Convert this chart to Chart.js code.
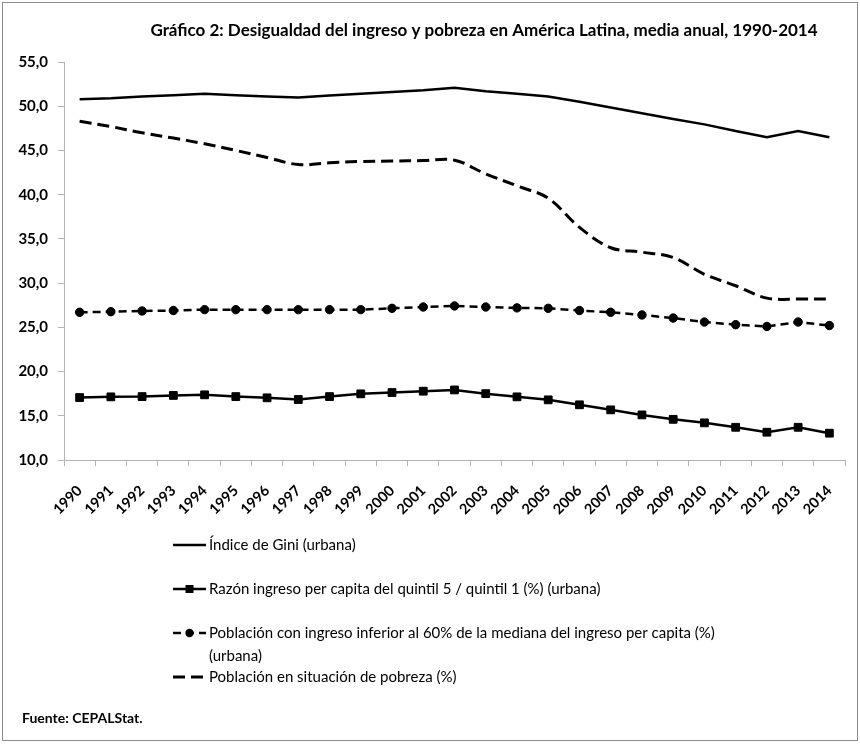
<!DOCTYPE html>
<html>
<head>
<meta charset="utf-8">
<script src="https://cdn.jsdelivr.net/npm/chart.js@4.4.1/dist/chart.umd.min.js"></script>
<style>
  html, body { margin: 0; padding: 0; background: #fff; }
  #wrap { position: relative; width: 860px; height: 744px; }
</style>
</head>
<body>
<div id="wrap"><canvas id="chart" width="860" height="744"></canvas></div>
<script>
const years = ['1990','1991','1992','1993','1994','1995','1996','1997','1998','1999','2000','2001','2002',
               '2003','2004','2005','2006','2007','2008','2009','2010','2011','2012','2013','2014'];

const gini    = [50.8, 50.9, 51.1, 51.25, 51.4, 51.25, 51.1, 51.0, 51.2, 51.4, 51.6, 51.8, 52.1,
                 51.7, 51.4, 51.1, 50.5, 49.85, 49.2, 48.55, 47.95, 47.2, 46.5, 47.2, 46.5];
const quintil = [17.06, 17.14, 17.17, 17.3, 17.37, 17.17, 17.03, 16.84, 17.17, 17.48, 17.63, 17.78, 17.92,
                 17.5, 17.14, 16.8, 16.24, 15.67, 15.1, 14.6, 14.2, 13.7, 13.14, 13.7, 13.03];
const bajo60  = [26.7, 26.77, 26.85, 26.9, 27.0, 27.0, 27.0, 27.0, 27.0, 27.0, 27.15, 27.3, 27.42,
                 27.3, 27.2, 27.15, 26.9, 26.7, 26.4, 26.05, 25.6, 25.3, 25.1, 25.6, 25.2];
const pobreza = [48.3, 47.7, 47.0, 46.4, 45.75, 45.0, 44.2, 43.4, 43.6, 43.75, 43.8, 43.85, 43.9,
                 42.35, 41.0, 39.6, 36.3, 34.0, 33.5, 32.9, 31.0, 29.7, 28.3, 28.2, 28.2];

const seriesNames = [
  'Índice de Gini (urbana)',
  'Razón ingreso per capita del quintil 5 / quintil 1 (%) (urbana)',
  ['Población con ingreso inferior al 60% de la mediana del ingreso per capita (%)', '(urbana)'],
  'Población en situación de pobreza (%)'
];
const titleText = 'Gráfico 2: Desigualdad del ingreso y pobreza en América Latina, media anual, 1990-2014';
const sourceText = 'Fuente: CEPALStat.';
const yMin = 10, yMax = 55, yStep = 5;

const FONT = 'Lato, "Open Sans", sans-serif';
const AXIS_GREY = '#b3b3b3';

// title, legend, source and frame are drawn straight on the canvas
const extras = {
  id: 'extras',
  afterDraw(chart) {
    const ctx = chart.ctx;
    ctx.save();
    ctx.strokeStyle = '#8c8c8c';
    ctx.lineWidth = 1;
    ctx.strokeRect(2.5, 2.5, 855, 738);

    ctx.fillStyle = '#000';
    ctx.font = 'bold 17px ' + FONT;
    ctx.textAlign = 'center';
    ctx.textBaseline = 'middle';
    ctx.fillText(titleText, 484, 31);

    ctx.textAlign = 'left';
    ctx.font = '15px ' + FONT;
    chart.data.datasets.forEach((ds, i) => {
      const y = 545 + i * 44;
      const x0 = 173, x1 = 206;
      ctx.strokeStyle = ds.borderColor;
      ctx.lineWidth = ds.borderWidth;
      ctx.setLineDash(ds.borderDash || []);
      ctx.beginPath();
      ctx.moveTo(x0, y);
      ctx.lineTo(x1, y);
      ctx.stroke();
      ctx.setLineDash([]);
      if (ds.pointRadius > 0) {
        ctx.fillStyle = ds.pointBackgroundColor;
        const cx = (x0 + x1) / 2;
        if (ds.pointStyle === 'rect') {
          ctx.fillRect(cx - 4, y - 4, 8, 8);
        } else {
          ctx.beginPath();
          ctx.arc(cx, y, ds.pointRadius, 0, Math.PI * 2);
          ctx.fill();
        }
      }
      ctx.fillStyle = '#000';
      const lines = Array.isArray(ds.label) ? ds.label : [ds.label];
      lines.forEach((t, j) => ctx.fillText(t, 209, y + j * 23));
    });

    ctx.font = 'bold 14px ' + FONT;
    ctx.fillText(sourceText, 22, 718);
    ctx.restore();
  }
};

new Chart(document.getElementById('chart'), {
  type: 'line',
  data: {
    labels: years,
    datasets: [
      { label: seriesNames[0], data: gini, borderColor: '#000', borderWidth: 2.5, pointRadius: 0, tension: 0 },
      { label: seriesNames[1], data: quintil, borderColor: '#000', borderWidth: 2.5,
        pointStyle: 'rect', pointRadius: 5.5, pointBackgroundColor: '#000', pointBorderColor: '#000', pointBorderWidth: 1 },
      { label: seriesNames[2], data: bajo60, borderColor: '#000', borderWidth: 2.5, borderDash: [8, 5],
        pointStyle: 'circle', pointRadius: 4.2, pointBackgroundColor: '#000', pointBorderColor: '#000', pointBorderWidth: 1 },
      { label: seriesNames[3], data: pobreza, borderColor: '#000', borderWidth: 3, borderDash: [12, 6],
        pointRadius: 0, tension: 0.35 }
    ]
  },
  options: {
    responsive: false,
    animation: false,
    layout: { padding: { top: 62, right: 15, bottom: 224, left: 0 } },
    plugins: { legend: { display: false }, title: { display: false }, tooltip: { enabled: false } },
    scales: {
      x: {
        offset: true,
        grid: { offset: true, drawOnChartArea: false, drawTicks: true, tickLength: 6, color: AXIS_GREY },
        border: { display: true, color: AXIS_GREY, width: 1 },
        ticks: { color: '#000', font: { family: FONT, size: 14.5, weight: 'bold' },
                 minRotation: 45, maxRotation: 45, autoSkip: false, padding: 16 },
        afterFit(scale) { scale.height = 60; }
      },
      y: {
        min: yMin, max: yMax,
        grid: { drawOnChartArea: false, drawTicks: true, tickLength: 6, color: AXIS_GREY },
        border: { display: true, color: AXIS_GREY, width: 1 },
        ticks: { stepSize: yStep, color: '#000', padding: 10,
                 font: { family: FONT, size: 15, weight: 'bold' },
                 callback: v => v.toFixed(1).replace('.', ',') },
        afterFit(scale) { scale.width = 64; }
      }
    }
  },
  plugins: [extras]
});
</script>
</body>
</html>
